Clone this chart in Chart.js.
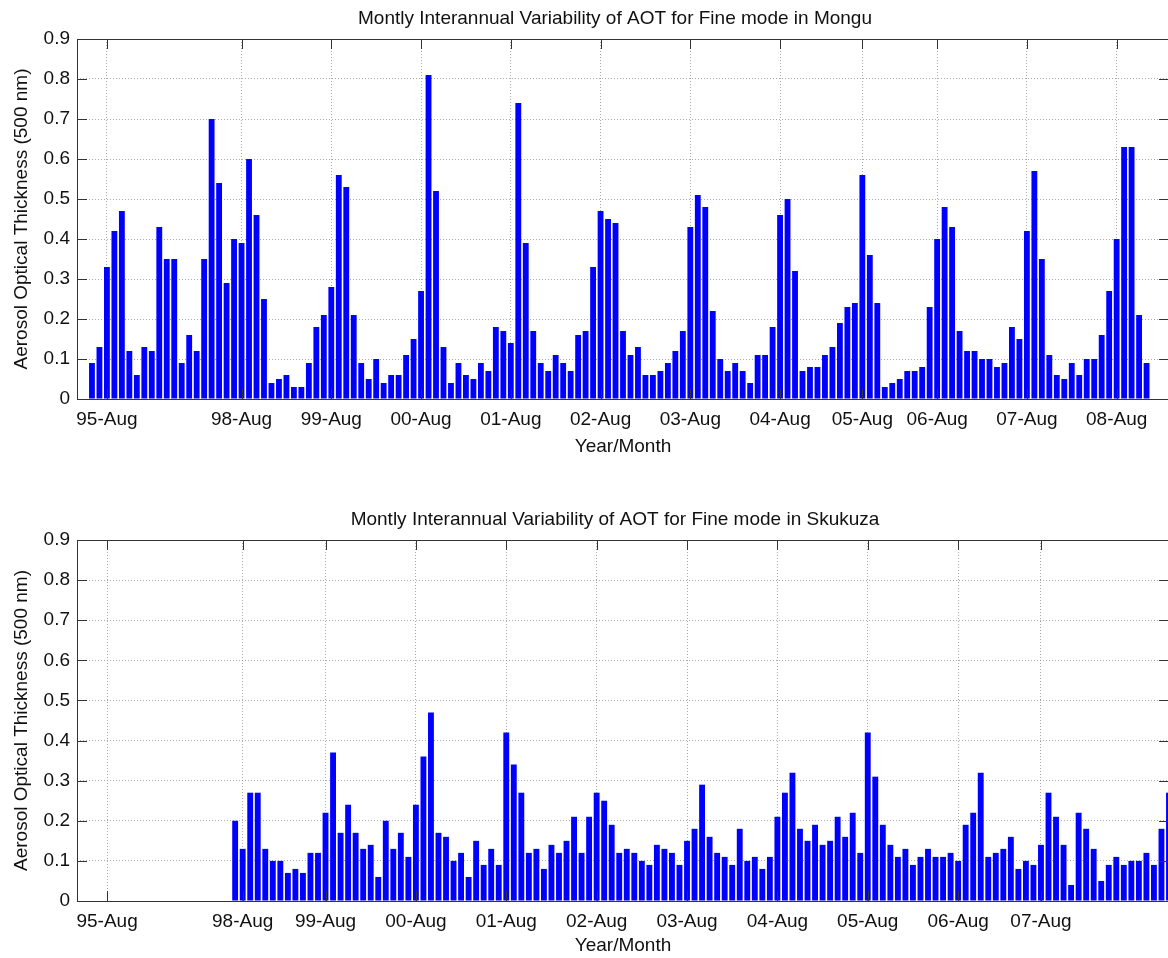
<!DOCTYPE html>
<html>
<head>
<meta charset="utf-8">
<title>Montly Interannual Variability of AOT</title>
<script src="https://cdn.jsdelivr.net/npm/chart.js@4/dist/chart.umd.min.js"></script>
<style>
  html, body { margin: 0; padding: 0; background: #fff; overflow: hidden; }
  .panel { position: absolute; left: 0; }
  #p1 { top: 0; }
  #p2 { top: 480px; }
</style>
</head>
<body>
<div class="panel" id="p1"><canvas id="monguChart" width="1190" height="470"></canvas></div>
<div class="panel" id="p2"><canvas id="skukuzaChart" width="1190" height="478"></canvas></div>
<script>
// monthly fine mode AOT (500 nm), one value per record, evenly spaced
const monguStart = 0;
const monguValues = [
  0.09, 0.13, 0.33, 0.42, 0.47, 0.12, 0.06, 0.13, 0.12, 0.43, 0.35, 0.35, 0.09, 0.16, 0.12, 0.35, 0.70, 0.54,
  0.29, 0.40, 0.39, 0.60, 0.46, 0.25, 0.04, 0.05, 0.06, 0.03, 0.03, 0.09, 0.18, 0.21, 0.28, 0.56,
  0.53, 0.21, 0.09, 0.05, 0.10, 0.04, 0.06, 0.06, 0.11, 0.15, 0.27, 0.81, 0.52, 0.13, 0.04, 0.09, 0.06, 0.05,
  0.09, 0.07, 0.18, 0.17, 0.14, 0.74, 0.39, 0.17, 0.09, 0.07, 0.11, 0.09, 0.07, 0.16, 0.17, 0.33, 0.47, 0.45,
  0.44, 0.17, 0.11, 0.13, 0.06, 0.06, 0.07, 0.09, 0.12, 0.17, 0.43, 0.51, 0.48, 0.22, 0.10, 0.07, 0.09, 0.07,
  0.04, 0.11, 0.11, 0.18, 0.46, 0.50, 0.32, 0.07, 0.08, 0.08, 0.11, 0.13, 0.19, 0.23, 0.24, 0.56, 0.36, 0.24,
  0.03, 0.04, 0.05, 0.07, 0.07, 0.08, 0.23, 0.40, 0.48, 0.43, 0.17, 0.12, 0.12, 0.10, 0.10, 0.08, 0.09, 0.18,
  0.15, 0.42, 0.57, 0.35, 0.11, 0.06, 0.05, 0.09, 0.06, 0.10, 0.10, 0.16, 0.27, 0.40, 0.63, 0.63, 0.21, 0.09
];
const monguTickPos = [2, 20, 32, 44, 56, 68, 80, 92, 103, 113, 125, 137];
const monguTickLabels = ['95-Aug', '98-Aug', '99-Aug', '00-Aug', '01-Aug', '02-Aug', '03-Aug', '04-Aug', '05-Aug', '06-Aug', '07-Aug', '08-Aug'];

const skukuzaStart = 19;
const skukuzaValues = [
  0.20, 0.13, 0.27, 0.27, 0.13, 0.10, 0.10, 0.07, 0.08, 0.07, 0.12, 0.12, 0.22, 0.37, 0.17,
  0.24, 0.17, 0.13, 0.14, 0.06, 0.20, 0.13, 0.17, 0.11, 0.24, 0.36, 0.47, 0.17, 0.16, 0.10, 0.12, 0.06, 0.15,
  0.09, 0.13, 0.09, 0.42, 0.34, 0.27, 0.12, 0.13, 0.08, 0.14, 0.12, 0.15, 0.21, 0.12, 0.21, 0.27, 0.25,
  0.19, 0.12, 0.13, 0.12, 0.10, 0.09, 0.14, 0.13, 0.12, 0.09, 0.15, 0.18, 0.29, 0.16, 0.12, 0.11, 0.09, 0.18,
  0.10, 0.11, 0.08, 0.11, 0.21, 0.27, 0.32, 0.18, 0.15, 0.19, 0.14, 0.15, 0.21, 0.16, 0.22, 0.12, 0.42, 0.31,
  0.19, 0.14, 0.11, 0.13, 0.09, 0.11, 0.13, 0.11, 0.11, 0.12, 0.10, 0.19, 0.22, 0.32, 0.11, 0.12, 0.13, 0.16,
  0.08, 0.10, 0.09, 0.14, 0.27, 0.21, 0.14, 0.04, 0.22, 0.18, 0.13, 0.05, 0.09, 0.11, 0.09, 0.10, 0.10, 0.12,
  0.09, 0.18, 0.27
];
const skukuzaTickPos = [2, 20, 31, 43, 55, 67, 79, 91, 103, 115, 126];
const skukuzaTickLabels = ['95-Aug', '98-Aug', '99-Aug', '00-Aug', '01-Aug', '02-Aug', '03-Aug', '04-Aug', '05-Aug', '06-Aug', '07-Aug'];

const yTicks = [0, 0.1, 0.2, 0.3, 0.4, 0.5, 0.6, 0.7, 0.8, 0.9];

const FONT = "'Liberation Sans', Arial, Helvetica, sans-serif";
Chart.defaults.font.family = FONT;
Chart.defaults.color = '#111';

// MATLAB style box with inward tick marks, plus the axes title
const matlabFrame = {
  id: 'matlabFrame',
  afterDraw(chart, args, opts) {
    const { ctx, chartArea: a, scales: { x, y } } = chart;
    ctx.save();
    ctx.strokeStyle = '#333';
    ctx.lineWidth = 1;
    ctx.strokeRect(Math.round(a.left) + 0.5, Math.round(a.top) + 0.5,
      Math.round(a.right - a.left), Math.round(a.bottom - a.top));
    ctx.beginPath();
    const tl = 10;
    opts.xTicks.forEach(v => {
      const px = Math.round(x.getPixelForValue(v)) + 0.5;
      ctx.moveTo(px, a.top); ctx.lineTo(px, a.top + tl);
      ctx.moveTo(px, a.bottom); ctx.lineTo(px, a.bottom - tl);
    });
    yTicks.forEach(v => {
      const py = Math.round(y.getPixelForValue(v)) + 0.5;
      ctx.moveTo(a.left, py); ctx.lineTo(a.left + tl, py);
      ctx.moveTo(a.right, py); ctx.lineTo(a.right - tl, py);
    });
    ctx.stroke();
    ctx.fillStyle = '#111';
    ctx.font = '19px ' + FONT;
    ctx.textAlign = 'center';
    ctx.textBaseline = 'middle';
    ctx.fillText(opts.title, opts.titleX, opts.titleY);
    ctx.restore();
  }
};

function makeChart(id, start, values, tickPos, tickLabels, title, xMax, areaTop, xAxisHeight, titleY) {
  const points = values.map((v, i) => ({ x: start + i, y: v }));
  return new Chart(document.getElementById(id), {
    type: 'bar',
    data: {
      datasets: [{
        data: points,
        backgroundColor: '#0000ff',
        borderWidth: 0,
        barPercentage: 0.78,
        categoryPercentage: 1.0
      }]
    },
    options: {
      responsive: false,
      animation: false,
      layout: { padding: { left: 0, right: 21, top: areaTop, bottom: 0 } },
      plugins: {
        legend: { display: false },
        tooltip: { enabled: false },
        title: { display: false },
        matlabFrame: { title: title, titleX: 615, titleY: titleY, xTicks: tickPos }
      },
      scales: {
        x: {
          type: 'linear',
          min: -2,
          max: xMax,
          offset: false,
          afterBuildTicks: s => { s.ticks = tickPos.map(v => ({ value: v })); },
          afterFit: s => { s.height = xAxisHeight; },
          ticks: {
            autoSkip: false,
            maxRotation: 0,
            padding: 9,
            color: '#111',
            font: { size: 19 },
            callback: v => {
              const k = tickPos.indexOf(v);
              return k >= 0 ? tickLabels[k] : '';
            }
          },
          grid: { offset: false, drawTicks: false, color: 'rgba(140,140,140,0.75)', lineWidth: 1 },
          border: { display: false, dash: [1, 2] },
          title: { display: true, text: 'Year/Month', color: '#111', font: { size: 19 }, padding: { top: 0, bottom: xAxisHeight > 60 ? 12 : 1 } }
        },
        y: {
          min: 0,
          max: 0.9,
          afterBuildTicks: s => { s.ticks = yTicks.map(v => ({ value: v })); },
          afterFit: s => { s.width = 77; },
          ticks: {
            padding: 7,
            color: '#111',
            font: { size: 19 },
            callback: v => String(+v.toFixed(1))
          },
          grid: { drawTicks: false, color: 'rgba(140,140,140,0.75)', lineWidth: 1 },
          border: { display: false, dash: [1, 2] },
          title: { display: true, text: 'Aerosol Optical Thickness (500 nm)', color: '#111', font: { size: 19 }, padding: { top: 10, bottom: 0 } }
        }
      }
    },
    plugins: [matlabFrame]
  });
}

makeChart('monguChart', monguStart, monguValues, monguTickPos, monguTickLabels,
  'Montly Interannual Variability of AOT for Fine mode in Mongu', 144, 39, 71, 19);
makeChart('skukuzaChart', skukuzaStart, skukuzaValues, skukuzaTickPos, skukuzaTickLabels,
  'Montly Interannual Variability of AOT for Fine mode in Skukuza', 143, 60, 57, 40);
</script>
</body>
</html>
